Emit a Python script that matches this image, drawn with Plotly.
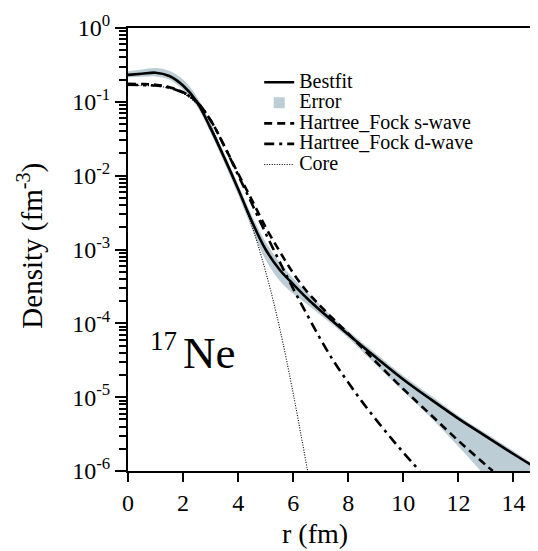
import plotly.graph_objects as go

# ---------------- data ----------------
r_best = [0, 0.5, 1, 1.5, 2, 2.5, 3, 3.5, 4, 4.5, 5, 5.5, 6, 6.5, 7, 7.5, 8, 9, 10, 11, 12, 13, 14, 15]
bestfit = [2.32e-1, 2.40e-1, 2.48e-1, 2.24e-1, 1.66e-1, 1.00e-1, 4.37e-2, 1.74e-2, 6.61e-3, 2.40e-3,
           1.00e-3, 5.37e-4, 3.39e-4, 2.19e-4, 1.48e-4, 1.02e-4, 7.08e-5, 3.47e-5, 1.74e-5, 9.33e-6,
           5.13e-6, 2.95e-6, 1.70e-6, 1.00e-6]

r_band = [0, 0.5, 1, 1.5, 2, 2.5, 3, 3.5, 4, 4.5, 5, 5.5, 6, 6.5, 7, 7.5, 8, 9, 10, 11, 12, 13, 14, 15]
error_upper = [2.60e-1, 2.75e-1, 2.88e-1, 2.63e-1, 2.00e-1, 1.17e-1, 5.13e-2, 2.00e-2, 7.59e-3, 2.88e-3,
               1.26e-3, 6.76e-4, 4.07e-4, 2.63e-4, 1.74e-4, 1.15e-4, 7.94e-5, 3.89e-5, 1.95e-5, 1.05e-5,
               5.62e-6, 3.24e-6, 1.86e-6, 1.05e-6]
error_lower = [2.16e-1, 2.19e-1, 2.21e-1, 2.00e-1, 1.45e-1, 8.71e-2, 3.80e-2, 1.48e-2, 5.50e-3, 1.91e-3,
               7.24e-4, 3.80e-4, 2.51e-4, 1.82e-4, 1.29e-4, 9.12e-5, 6.31e-5, 2.75e-5, 1.20e-5, 5.25e-6,
               2.14e-6, 8.32e-7, 3.16e-7, 1.26e-7]

r_hf_s = [0, 0.5, 1, 1.5, 2, 2.5, 3, 3.5, 4, 4.5, 5, 5.5, 6, 6.5, 7, 7.5, 8, 8.5, 9, 10, 11, 12, 13, 13.25]
hf_s = [1.75e-1, 1.74e-1, 1.70e-1, 1.58e-1, 1.35e-1, 1.00e-1, 5.62e-2, 2.51e-2, 1.07e-2, 4.68e-3,
        2.00e-3, 9.55e-4, 4.79e-4, 2.69e-4, 1.70e-4, 1.10e-4, 7.24e-5, 4.68e-5, 3.02e-5, 1.29e-5,
        5.75e-6, 2.57e-6, 1.20e-6, 1.00e-6]

r_hf_d = [0, 0.5, 1, 1.5, 2, 2.5, 3, 3.5, 4, 4.5, 5, 5.5, 6, 6.5, 7, 7.5, 8, 8.5, 9, 9.5, 10, 10.6]
hf_d = [1.70e-1, 1.69e-1, 1.66e-1, 1.55e-1, 1.33e-1, 1.00e-1, 5.62e-2, 2.51e-2, 1.02e-2, 4.17e-3,
        1.66e-3, 6.92e-4, 2.95e-4, 1.32e-4, 6.03e-5, 2.95e-5, 1.58e-5, 8.71e-6, 5.01e-6, 2.95e-6,
        1.78e-6, 1.00e-6]

r_core = [0, 0.5, 1, 1.5, 2, 2.5, 3, 3.5, 4, 4.5, 5, 5.5, 6, 6.5, 6.55]
core = [1.66e-1, 1.66e-1, 1.64e-1, 1.53e-1, 1.30e-1, 9.33e-2, 4.68e-2, 1.82e-2, 6.61e-3, 2.09e-3,
        5.01e-4, 8.91e-5, 1.12e-5, 1.12e-6, 8.91e-7]

x_ticks = [0, 2, 4, 6, 8, 10, 12, 14]
y_exponents = [-6, -5, -4, -3, -2, -1, 0]
y_tick_vals = [10.0 ** e for e in y_exponents]
y_tick_text = ["10<sup>%d</sup>" % e for e in y_exponents]
y_minor_vals = [k * 10.0 ** e for e in range(-6, 0) for k in range(2, 10)]

# ---------------- style ----------------
FONT = "Liberation Serif"
BAND = "#bccdd5"
LEG = '<span style="font-size:20px">%s</span>'

fig = go.Figure()

fig.add_trace(go.Scatter(x=r_band, y=error_lower, mode="lines", line=dict(width=0, shape="spline", color=BAND),
                         showlegend=False, hoverinfo="skip"))
fig.add_trace(go.Scatter(x=r_band, y=error_upper, mode="lines", line=dict(width=0, shape="spline", color=BAND),
                         fill="tonexty", fillcolor=BAND, showlegend=False, hoverinfo="skip"))

fig.add_trace(go.Scatter(x=r_best, y=bestfit, mode="lines", name=LEG % "Bestfit",
                         line=dict(color="black", width=2.6, shape="spline")))
fig.add_trace(go.Scatter(x=[None], y=[None], mode="markers", name=LEG % "Error",
                         marker=dict(symbol="square", size=11, color=BAND)))
fig.add_trace(go.Scatter(x=r_hf_s, y=hf_s, mode="lines", name=LEG % "Hartree_Fock s-wave",
                         line=dict(color="black", width=2.6, dash="8px,5px", shape="spline")))
fig.add_trace(go.Scatter(x=r_hf_d, y=hf_d, mode="lines", name=LEG % "Hartree_Fock d-wave",
                         line=dict(color="black", width=2.6, dash="10px,5px,3px,5px", shape="spline")))
fig.add_trace(go.Scatter(x=r_core, y=core, mode="lines", name=LEG % "Core",
                         line=dict(color="black", width=1.1, dash="1px,1.5px", shape="spline")))

fig.update_xaxes(range=[0, 15], tickmode="array", tickvals=x_ticks, ticks="outside", ticklen=9, tickwidth=2,
                 tickcolor="black", showline=True, linewidth=2, linecolor="black", mirror=True,
                 showgrid=False, zeroline=False, tickfont=dict(family=FONT, size=24, color="black"))
fig.update_yaxes(type="log", range=[-6, 0], tickmode="array", tickvals=y_tick_vals, ticktext=y_tick_text,
                 ticks="outside", ticklen=11, tickwidth=2, tickcolor="black",
                 minor=dict(tickmode="array", tickvals=y_minor_vals, ticks="outside", ticklen=7,
                            tickwidth=1.5, tickcolor="black", showgrid=False),
                 showline=True, linewidth=2, linecolor="black", mirror=True,
                 showgrid=False, zeroline=False, tickfont=dict(family=FONT, size=24, color="black"))

fig.update_layout(
    width=538, height=551, autosize=False,
    margin=dict(l=120, r=3, t=20, b=88, pad=0),
    paper_bgcolor="white", plot_bgcolor="white",
    font=dict(family=FONT, color="black"),
    legend=dict(x=0.3177, y=0.912, xanchor="left", yanchor="top", bgcolor="rgba(0,0,0,0)",
                borderwidth=0, font=dict(family=FONT, size=13.5, color="black"), itemwidth=30,
                tracegroupgap=0, traceorder="normal"),
    annotations=[
        dict(text="r (fm)", xref="paper", yref="paper", x=0.452, y=-0.14, showarrow=False,
             xanchor="center", yanchor="middle", font=dict(family=FONT, size=28, color="black")),
        dict(text="Density (fm<sup>-3</sup>)", xref="paper", yref="paper", x=-0.237, y=0.509,
             showarrow=False, textangle=-90, xanchor="center", yanchor="middle",
             font=dict(family=FONT, size=29, color="black")),
        dict(text="17", xref="paper", yref="paper", x=0.085, y=0.294, showarrow=False,
             xanchor="center", yanchor="middle", font=dict(family=FONT, size=27, color="black")),
        dict(text="Ne", xref="paper", yref="paper", x=0.196, y=0.267, showarrow=False,
             xanchor="center", yanchor="middle", font=dict(family=FONT, size=45, color="black")),
    ],
)

fig.write_html("out.html")
